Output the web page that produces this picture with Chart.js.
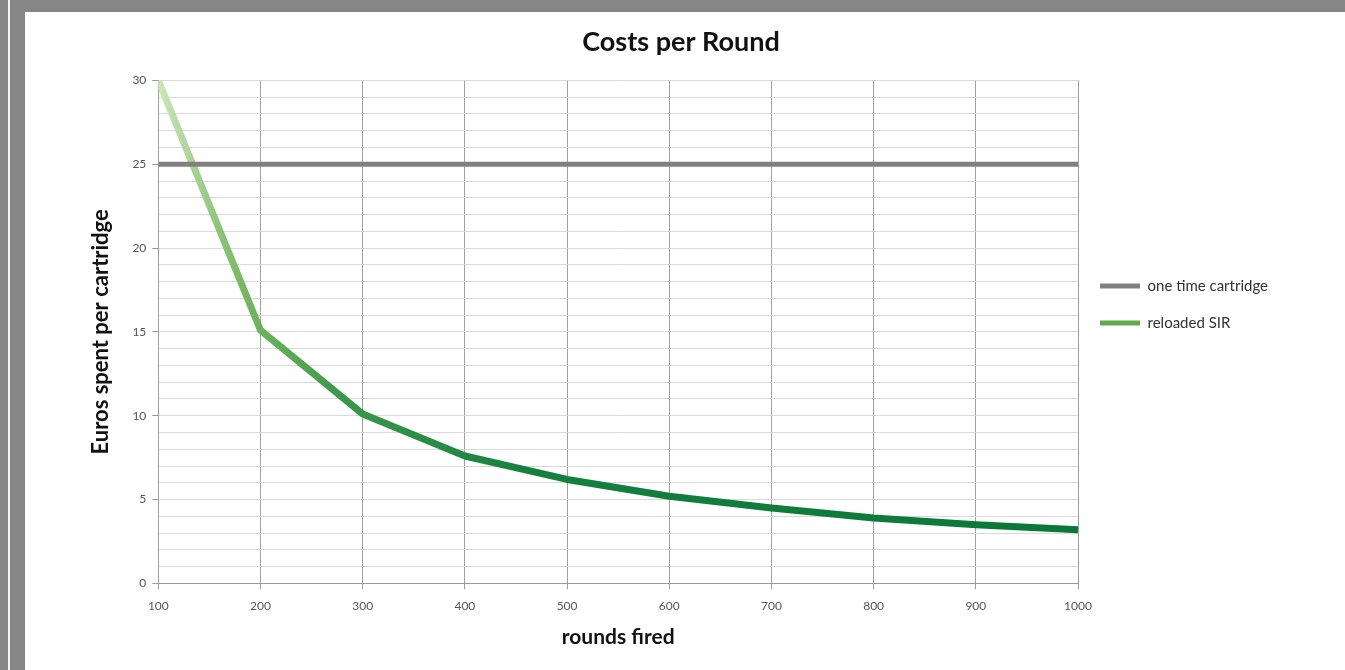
<!DOCTYPE html>
<html>
<head>
<meta charset="utf-8">
<script src="https://cdn.jsdelivr.net/npm/chart.js@4.4.1/dist/chart.umd.min.js"></script>
<style>
  html, body { margin: 0; padding: 0; background: #ffffff; }
  body { width: 1345px; height: 670px; position: relative; overflow: hidden; }
  .frameTop { position: absolute; left: 0; top: 0; width: 1345px; height: 12px; background: #868686; }
  .frameLeft { position: absolute; left: 0; top: 0; width: 25px; height: 670px; background: #868686; }
  .frameLine { position: absolute; left: 8px; top: 0; width: 2px; height: 670px; background: #f4f4f4; }
  .wrap { position: absolute; left: 25px; top: 12px; width: 1320px; height: 658px; }
</style>
</head>
<body>
<div class="frameTop"></div>
<div class="frameLeft"></div>
<div class="frameLine"></div>
<div class="wrap"><canvas id="chart"></canvas></div>
<script>
const roundsFired = [100, 200, 300, 400, 500, 600, 700, 800, 900, 1000];
const oneTimeCartridge = [25, 25, 25, 25, 25, 25, 25, 25, 25, 25];
const reloadedSIR = [30, 15.1, 10.1, 7.6, 6.2, 5.2, 4.5, 3.9, 3.5, 3.2];
const yMajorStep = 5;

const fontFamily = "Lato, 'Open Sans', sans-serif";

function greenGradient(ctx) {
  const area = ctx.chart.chartArea;
  if (!area) return "#3a9a4a";
  const g = ctx.chart.ctx.createLinearGradient(area.left, 0, area.right, 0);
  g.addColorStop(0, "#cbe6b8");
  g.addColorStop(0.09, "#78b863");
  g.addColorStop(0.2, "#3b984a");
  g.addColorStop(0.4, "#15803e");
  g.addColorStop(1, "#0a773a");
  return g;
}

new Chart(document.getElementById("chart"), {
  type: "line",
  data: {
    datasets: [
      {
        label: "one time cartridge",
        data: roundsFired.map((x, i) => ({ x: x, y: oneTimeCartridge[i] })),
        borderColor: "#808080",
        backgroundColor: "#808080",
        borderWidth: 5,
        pointRadius: 0,
        tension: 0,
      },
      {
        label: "reloaded SIR",
        data: roundsFired.map((x, i) => ({ x: x, y: reloadedSIR[i] })),
        borderColor: greenGradient,
        backgroundColor: "#5fab4c",
        borderWidth: 7,
        borderJoinStyle: "round",
        pointRadius: 0,
        tension: 0,
      },
    ],
  },
  options: {
    responsive: true,
    maintainAspectRatio: false,
    animation: false,
    layout: { padding: { left: 59, right: 67, top: 0, bottom: 16 } },
    plugins: {
      title: {
        display: true,
        text: "Costs per Round",
        color: "#111111",
        font: { family: fontFamily, size: 27, weight: "bold" },
        padding: { top: 14, bottom: 22 },
      },
      legend: {
        position: "right",
        align: "start",
        title: {
          display: true,
          text: "",
          padding: { top: 0, bottom: 230 },
        },
        labels: {
          boxWidth: 40,
          boxHeight: 5,
          padding: 22,
          color: "#333333",
          font: { family: fontFamily, size: 15 },
          generateLabels: (chart) =>
            Chart.defaults.plugins.legend.labels.generateLabels(chart).map((l) => {
              l.lineWidth = 0;
              l.strokeStyle = l.fillStyle;
              return l;
            }),
        },
      },
      tooltip: { enabled: false },
    },
    scales: {
      x: {
        type: "linear",
        min: 100,
        max: 1000,
        ticks: {
          stepSize: 100,
          color: "#555555",
          padding: 10,
          font: { family: fontFamily, size: 12 },
          callback: (v) => String(v),
        },
        grid: { color: "#a0a0a0", tickLength: 6 },
        border: { color: "#9a9a9a" },
        title: {
          display: true,
          text: "rounds fired",
          color: "#111111",
          font: { family: fontFamily, size: 21, weight: "bold" },
          padding: { top: 1 },
        },
      },
      y: {
        min: 0,
        max: 30,
        ticks: {
          stepSize: 1,
          autoSkip: false,
          color: "#555555",
          padding: 6,
          font: { family: fontFamily, size: 12 },
          callback: (v) => (v % yMajorStep === 0 ? v : ""),
        },
        grid: {
          color: (c) => (c.tick && c.tick.value === 0 ? "#9a9a9a" : "#d9d9d9"),
          tickColor: (c) => (c.tick && c.tick.value % yMajorStep === 0 ? "#9a9a9a" : "rgba(0,0,0,0)"),
          tickLength: 6,
        },
        border: { color: "#a0a0a0" },
        title: {
          display: true,
          text: "Euros spent per cartridge",
          color: "#111111",
          font: { family: fontFamily, size: 22, weight: "bold" },
          padding: { bottom: 12 },
        },
      },
    },
  },
});
</script>
</body>
</html>
